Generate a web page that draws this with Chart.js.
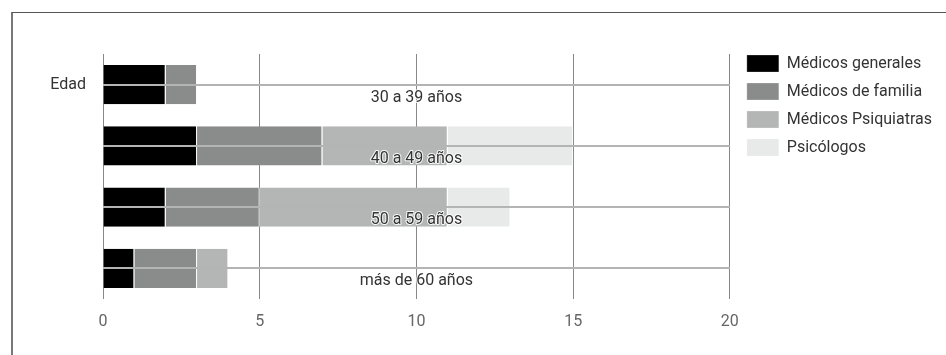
<!DOCTYPE html>
<html>
<head>
<meta charset="utf-8">
<script src="https://cdn.jsdelivr.net/npm/chart.js@4"></script>
<style>
  body { margin: 0; background: #fff; }
  #wrap { position: relative; width: 946px; height: 355px; }
  #frame { position: absolute; left: 11px; top: 12px; right: 0; bottom: 0; border-top: 1px solid #555; border-left: 2px solid #777; }
  canvas { position: absolute; left: 0; top: 0; }
</style>
</head>
<body>
<div id="wrap">
  <div id="frame"></div>
  <canvas id="chart" width="946" height="355"></canvas>
</div>
<script>
const categories = ['30 a 39 años', '40 a 49 años', '50 a 59 años', 'más de 60 años'];
const axisLabel = 'Edad';
const generales = [2, 3, 2, 1];
const familia = [1, 4, 3, 2];
const psiquiatras = [0, 4, 6, 1];
const psicologos = [0, 4, 2, 0];
const xTicks = [0, 5, 10, 15, 20];

const FONT = 'Roboto, "Liberation Sans", sans-serif';

// category names are written under the line of each row, centred in the plot
const rowLabels = {
    id: 'rowLabels',
    afterLayout(chart) {
        // legend sits a bit higher and further from the plot than Chart.js puts it
        chart.legend.left += 6;
        chart.legend.top -= 10;
    },
    afterDatasetsDraw(chart) {
        const ctx = chart.ctx;
        const area = chart.chartArea;
        const y = chart.scales.y;
        const cx = (area.left + area.right) / 2;
        ctx.save();
        ctx.font = '16px ' + FONT;
        ctx.textAlign = 'center';
        ctx.textBaseline = 'middle';
        ctx.lineJoin = 'round';
        categories.forEach((c, i) => {
            const py = y.getPixelForValue(i) + 13;
            ctx.strokeStyle = 'rgba(255,255,255,0.9)';
            ctx.lineWidth = 2;
            ctx.strokeText(c, cx, py);
            ctx.fillStyle = '#333';
            ctx.fillText(c, cx, py);
        });
        ctx.restore();
    }
};

const ds = (label, data, color) => ({
    label: label,
    data: data,
    backgroundColor: color,
    borderColor: '#fff',
    borderWidth: {top: 0, bottom: 0, left: 0, right: 1},
    borderSkipped: false,
    barPercentage: 1,
    categoryPercentage: 0.64
});

new Chart(document.getElementById('chart'), {
    type: 'bar',
    data: {
        labels: categories,
        datasets: [
            ds('Médicos generales', generales, '#000000'),
            ds('Médicos de familia', familia, '#8a8c8c'),
            ds('Médicos Psiquiatras', psiquiatras, '#b4b6b6'),
            ds('Psicólogos', psicologos, '#e8e9e9')
        ]
    },
    options: {
        indexAxis: 'y',
        responsive: false,
        animation: false,
        layout: { padding: { top: 54, bottom: 14, left: 0, right: 10 } },
        plugins: {
            legend: {
                position: 'right',
                align: 'start',
                labels: {
                    boxWidth: 32,
                    boxHeight: 17,
                    padding: 11,
                    color: '#333',
                    font: { family: FONT, size: 16 }
                }
            },
            tooltip: { enabled: false }
        },
        scales: {
            x: {
                stacked: true,
                min: 0,
                max: 20,
                afterBuildTicks: s => { s.ticks = xTicks.map(v => ({ value: v })); },
                grid: { color: '#888', lineWidth: 1, drawTicks: false },
                border: { display: false },
                ticks: { color: '#666', padding: 13, font: { family: FONT, size: 16 } },
                afterFit: s => { s.height = 42; }
            },
            y: {
                stacked: true,
                grid: { color: '#b4b4b4', lineWidth: 2, offset: false, drawTicks: false, z: 1 },
                border: { display: false },
                ticks: {
                    color: '#333',
                    padding: 17,
                    font: { family: FONT, size: 16 },
                    callback: (v, i) => i === 0 ? axisLabel : ''
                },
                afterFit: s => { s.width = 103; }
            }
        }
    },
    plugins: [rowLabels]
});
</script>
</body>
</html>
